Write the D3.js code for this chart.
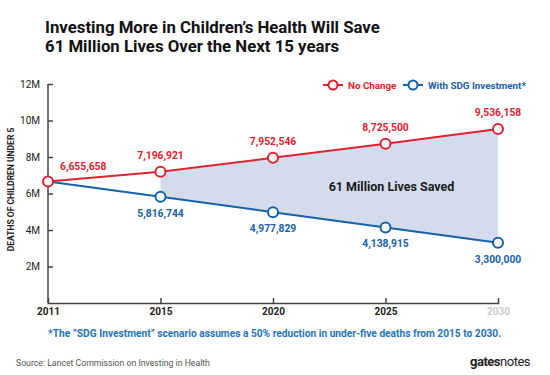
<!DOCTYPE html>
<html>
<head>
<meta charset="utf-8">
<script src="https://cdn.jsdelivr.net/npm/d3@7"></script>
<style>
  body { margin: 0; background: #fff; }
  svg { font-family: Roboto, "DejaVu Sans", sans-serif; }
</style>
</head>
<body>
<div id="chart"></div>
<script>
var years = ["2011", "2015", "2020", "2025", "2030"];
var noChange = [6655658, 7196921, 7952546, 8725500, 9536158];
var sdg = [6655658, 5816744, 4977829, 4138915, 3300000];
var yTicks = [2e6, 4e6, 6e6, 8e6, 10e6, 12e6];

var svgWidth = 550, svgHeight = 375;
var margin = { top: 84, right: 52, bottom: 72, left: 48 };
var width = svgWidth - margin.left - margin.right;
var height = svgHeight - margin.top - margin.bottom;

var red = "#e1232f", blue = "#1761a9";

var svg = d3.select("#chart").append("svg")
    .attr("width", svgWidth)
    .attr("height", svgHeight);

// title
svg.append("text").attr("x", 45).attr("y", 33)
    .attr("font-size", 16.8).attr("font-weight", "bold").attr("fill", "#111")
    .text("Investing More in Children\u2019s Health Will Save");
svg.append("text").attr("x", 45).attr("y", 52)
    .attr("font-size", 16.8).attr("font-weight", "bold").attr("fill", "#111")
    .text("61 Million Lives Over the Next 15 years");

var g = svg.append("g").attr("transform", `translate(${margin.left},${margin.top})`);

var x = d3.scalePoint().domain(years).range([0, width]);
var y = d3.scaleLinear().domain([0, 12e6]).range([height, 0]);

// shaded area between the two scenarios (from 2015 on)
var pts = years.map((yr, i) => ({ yr: yr, hi: noChange[i], lo: sdg[i] })).slice(1);
g.append("path")
    .datum(pts)
    .attr("fill", "#d4dbed")
    .attr("d", d3.area().x(d => x(d.yr)).y0(d => y(d.lo)).y1(d => y(d.hi)));

g.append("text")
    .attr("x", (x("2020") + x("2030")) / 2 + 6).attr("y", y(6.15e6))
    .attr("text-anchor", "middle")
    .attr("font-size", 12.5).attr("font-weight", "bold").attr("fill", "#1a1a1a")
    .text("61 Million Lives Saved");

// axes
var yAxis = g.append("g")
    .call(d3.axisLeft(y).tickValues(yTicks).tickSize(-5).tickPadding(8)
        .tickFormat(d => (d / 1e6) + "M"));
var xAxis = g.append("g")
    .attr("transform", `translate(0,${height})`)
    .call(d3.axisBottom(x).tickSize(-5).tickPadding(5));

[yAxis, xAxis].forEach(a => {
    a.select(".domain").attr("stroke", "#444").attr("stroke-width", 1.5);
    a.selectAll(".tick line").attr("stroke", "#444").attr("stroke-width", 1.5);
    a.selectAll("text").attr("fill", "#222").attr("font-size", 10)
        .attr("font-family", "Roboto, sans-serif");
});
yAxis.select(".domain").attr("d", `M0,${y(12e6)}V${height}`);
xAxis.selectAll("text").attr("font-weight", "bold");
xAxis.selectAll(".tick").filter(d => d === "2011").select("line").remove();
xAxis.selectAll(".tick").filter(d => d === "2030").select("line").remove();
xAxis.selectAll(".tick").filter(d => d === "2030").select("text").attr("fill", "#ccc");

g.append("text")
    .attr("transform", `translate(${-34},${y(6e6) - 4}) rotate(-90)`)
    .attr("text-anchor", "middle")
    .attr("font-size", 8.5).attr("font-weight", "bold").attr("fill", "#222")
    .text("DEATHS OF CHILDREN UNDER 5");

// lines
var line = d3.line().x((d, i) => x(years[i])).y(d => y(d));
g.append("path").datum(sdg).attr("fill", "none").attr("stroke", blue)
    .attr("stroke-width", 2).attr("d", line);
g.append("path").datum(noChange).attr("fill", "none").attr("stroke", red)
    .attr("stroke-width", 2).attr("d", line);

// markers
g.selectAll(".mb").data(sdg.slice(1)).enter().append("circle")
    .attr("cx", (d, i) => x(years[i + 1])).attr("cy", d => y(d)).attr("r", 5)
    .attr("fill", "#fff").attr("stroke", blue).attr("stroke-width", 2);
g.selectAll(".mr").data(noChange).enter().append("circle")
    .attr("cx", (d, i) => x(years[i])).attr("cy", d => y(d)).attr("r", 5)
    .attr("fill", "#fff").attr("stroke", red).attr("stroke-width", 2);

// value labels
var fmt = d3.format(",");
g.selectAll(".lr").data(noChange).enter().append("text")
    .attr("x", (d, i) => i === 0 ? x(years[i]) + 12 : x(years[i]))
    .attr("y", (d, i) => i === 0 ? y(d) - 12 : y(d) - 13)
    .attr("text-anchor", (d, i) => i === 0 ? "start" : "middle")
    .attr("font-size", 10.3).attr("font-weight", "bold").attr("fill", red)
    .text(d => fmt(d));
g.selectAll(".lb").data(sdg.slice(1)).enter().append("text")
    .attr("x", (d, i) => x(years[i + 1]))
    .attr("y", d => y(d) + 20)
    .attr("text-anchor", "middle")
    .attr("font-size", 10.3).attr("font-weight", "bold").attr("fill", blue)
    .text(d => fmt(d));

// legend
var legend = [
    { label: "No Change", color: red, x: 323 },
    { label: "With SDG Investment*", color: blue, x: 403 }
];
var lg = svg.selectAll(".legend").data(legend).enter().append("g")
    .attr("transform", d => `translate(${d.x},85)`);
lg.append("line").attr("x1", 0).attr("x2", 20)
    .attr("stroke", d => d.color).attr("stroke-width", 2);
lg.append("circle").attr("cx", 10).attr("r", 4.5).attr("fill", "#fff")
    .attr("stroke", d => d.color).attr("stroke-width", 2);
lg.append("text").attr("x", 25).attr("y", 3.5)
    .attr("font-size", 9.8).attr("font-weight", "bold").attr("fill", d => d.color)
    .text(d => d.label);

// footnote, source
svg.append("text").attr("x", 48).attr("y", 337)
    .attr("font-size", 10.2).attr("font-weight", "bold").attr("fill", "#1f74bb")
    .text("*The \u201DSDG Investment\u201D scenario assumes a 50% reduction in under-five deaths from 2015 to 2030.");
svg.append("text").attr("x", 16).attr("y", 366)
    .attr("font-size", 8.7).attr("fill", "#555")
    .text("Source: Lancet Commission on Investing in Health");
svg.append("text").attr("x", 530).attr("y", 366).attr("text-anchor", "end")
    .attr("font-size", 13).attr("fill", "#222").attr("letter-spacing", -0.5)
    .html("<tspan font-weight='bold'>gates</tspan>notes");
</script>
</body>
</html>
